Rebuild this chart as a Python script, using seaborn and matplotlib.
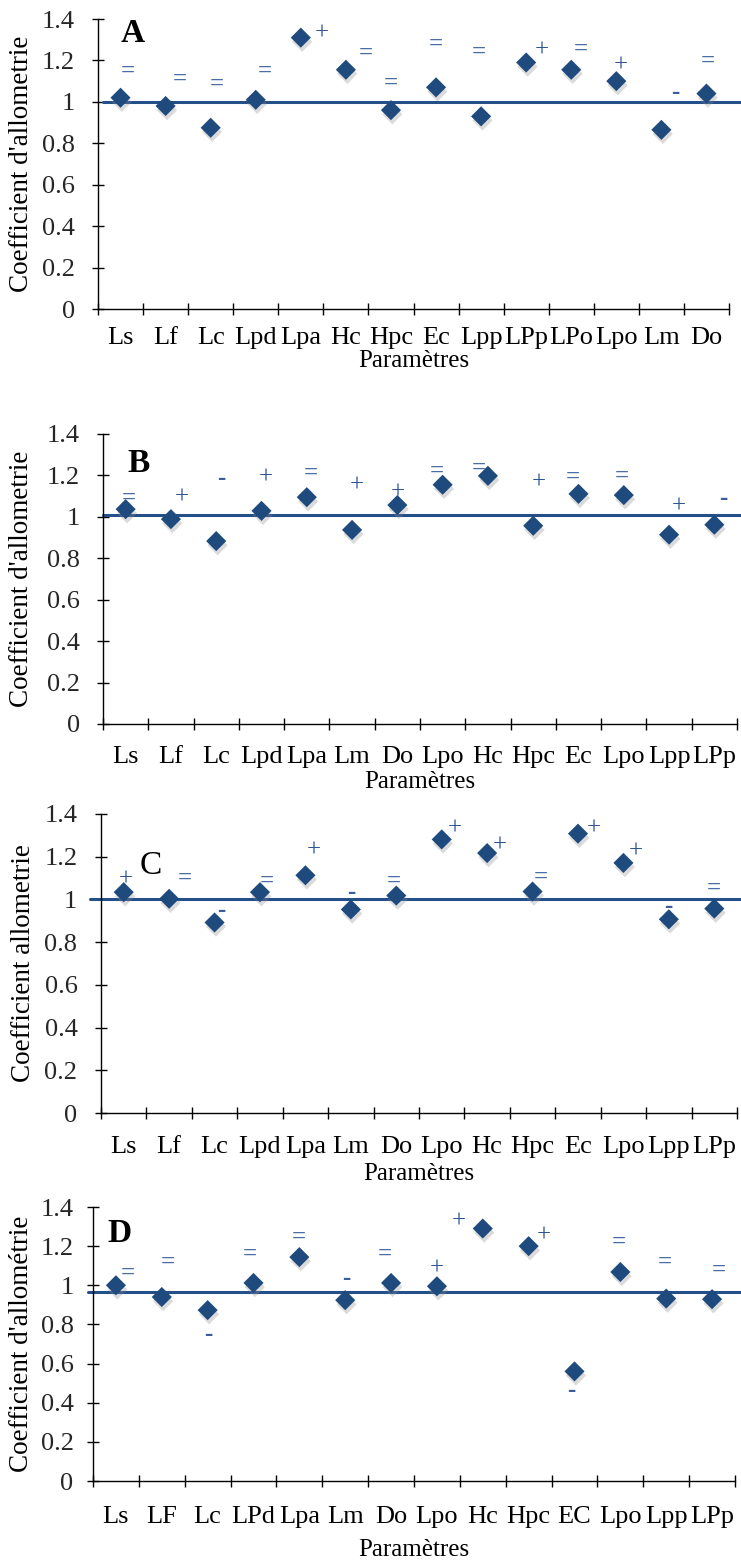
import numpy as np
import pandas as pd
import matplotlib
matplotlib.use("Agg")
import matplotlib.pyplot as plt
import matplotlib.patheffects as pe
import seaborn as sns

sns.set_theme(style="white")
plt.rcParams['font.family'] = ['Liberation Serif', 'DejaVu Serif']

# ------------------------------------------------------------------ data
cats_A = ["Ls", "Lf", "Lc", "Lpd", "Lpa", "Hc", "Hpc", "Ec", "Lpp", "LPp", "LPo", "Lpo", "Lm", "Do"]
vals_A = [1.02, 0.98, 0.875, 1.01, 1.31, 1.155, 0.96, 1.07, 0.93, 1.19, 1.155, 1.10, 0.865, 1.04]
sig_A = ["=", "=", "=", "=", "+", "=", "=", "=", "=", "+", "=", "+", "-", "="]
sigy_A = [1.146, 1.11, 1.083, 1.149, 1.33, 1.233, 1.09, 1.276, 1.237, 1.25, 1.254, 1.175, 1.043, 1.194]
ref_A = 1.0

cats_B = ["Ls", "Lf", "Lc", "Lpd", "Lpa", "Lm", "Do", "Lpo", "Hc", "Hpc", "Ec", "Lpo", "Lpp", "LPp"]
vals_B = [1.037, 0.989, 0.883, 1.029, 1.095, 0.937, 1.057, 1.155, 1.198, 0.957, 1.111, 1.105, 0.914, 0.962]
sig_B = ["=", "+", "-", "+", "=", "+", "+", "=", "=", "+", "=", "=", "+", "-"]
sigy_B = [1.092, 1.092, 1.184, 1.192, 1.211, 1.151, 1.116, 1.219, 1.235, 1.167, 1.19, 1.198, 1.048, 1.089]
ref_B = 1.01

cats_C = ["Ls", "Lf", "Lc", "Lpd", "Lpa", "Lm", "Do", "Lpo", "Hc", "Hpc", "Ec", "Lpo", "Lpp", "LPp"]
vals_C = [1.034, 1.003, 0.892, 1.034, 1.113, 0.953, 1.018, 1.281, 1.217, 1.037, 1.308, 1.171, 0.907, 0.957]
sig_C = ["+", "=", "-", "=", "+", "-", "=", "+", "+", "=", "+", "+", "-", "="]
sigy_C = [1.095, 1.098, 0.95, 1.084, 1.228, 1.031, 1.087, 1.334, 1.252, 1.102, 1.334, 1.224, 0.965, 1.052]
ref_C = 1.0

cats_D = ["Ls", "LF", "Lc", "LPd", "Lpa", "Lm", "Do", "Lpo", "Hc", "Hpc", "EC", "Lpo", "Lpp", "LPp"]
vals_D = [1.0, 0.94, 0.873, 1.012, 1.144, 0.924, 1.012, 0.995, 1.29, 1.2, 0.56, 1.068, 0.932, 0.929]
sig_D = ["=", "=", "-", "=", "=", "-", "=", "+", "+", "+", "-", "=", "=", "="]
sigy_D = [1.06, 1.12, 0.746, 1.158, 1.246, 1.037, 1.158, 1.085, 1.327, 1.254, 0.46, 1.22, 1.119, 1.076]
ref_D = 0.966

letters = ["A", "B", "C", "D"]
ylabels = ["Coefficient d'allometrie", "Coefficient d'allometrie",
           "Coefficient allometrie", "Coefficient d'allométrie"]
xlabel = "Paramètres"
yticks = [0, 0.2, 0.4, 0.6, 0.8, 1.0, 1.2, 1.4]
ytick_labels = ["0", "0.2", "0.4", "0.6", "0.8", "1", "1.2", "1.4"]

# ------------------------------------------------------------------ layout (pixels)
W, H, DPI = 741, 1564, 100
layout = [
    dict(l=98, r=729, t=19, b=309, xpad=13, ypad=12, xl=361, yl=22, ls=103, let=(133, 33), bold=True),
    dict(l=103, r=737, t=434, b=724, xpad=16, ypad=12, xl=782, yl=22, ls=103, let=(139, 464), bold=True),
    dict(l=101, r=737, t=814, b=1113, xpad=16.5, ypad=12.5, xl=1174, yl=24, ls=90, let=(151, 866), bold=False),
    dict(l=93, r=735, t=1207, b=1481, xpad=18, ypad=9.5, xl=1550, yl=22, ls=88, let=(120, 1234), bold=True),
]
# horizontal offsets (px) of the significance symbols relative to each diamond
sym_dx = [
    [7, 14, 6, 9, 21, 20, 0, 0, -2, 16, 10, 4, 14, 1],
    [3, 11, 5, 4, 4, 5, 0, -6, -9, 6, -6, -2, 10, 9],
    [2, 16, 7, 7, 8, 0, -2, 13, 13, 8, 16, 12, -1, 0],
    [12, 6, 1, -4, 0, 1, -6, 0, -24, 15, -3, -1, -1, 7],
]

MARK = "#1F4A7E"
LINE = "#24508A"
SYM_COL = {"=": "#4A6DA6", "+": "#2C5391", "-": "#3A5E9B"}
SYM_W = {"=": "bold", "+": "normal", "-": "bold"}
FS = 19
FS_X = 18
FS_Y = 19.5

panels = [
    (cats_A, vals_A, sig_A, sigy_A, ref_A),
    (cats_B, vals_B, sig_B, sigy_B, ref_B),
    (cats_C, vals_C, sig_C, sigy_C, ref_C),
    (cats_D, vals_D, sig_D, sigy_D, ref_D),
]

fig = plt.figure(figsize=(W / DPI, H / DPI), dpi=DPI)
fig.patch.set_facecolor("white")

for k, (cats, vals, sigs, sigy, ref) in enumerate(panels):
    L = layout[k]
    ax = fig.add_axes([L["l"] / W, 1 - L["b"] / H, (L["r"] - L["l"]) / W, (L["b"] - L["t"]) / H])
    ax.set_facecolor("white")
    n = len(cats)
    df = pd.DataFrame({"pos": np.arange(n), "val": vals, "cat": cats})

    # reference line
    wpx = L["r"] - L["l"]
    ax.plot([(L["ls"] - L["l"]) / wpx, (W + 2 - L["l"]) / wpx], [ref, ref],
            transform=ax.get_yaxis_transform(), color=LINE, lw=2.2, clip_on=False, zorder=2)

    sns.scatterplot(data=df, x="pos", y="val", ax=ax, marker="D", s=105,
                    color=MARK, edgecolor="none", linewidth=0, zorder=4, legend=False)
    for coll in ax.collections:
        coll.set_path_effects([pe.SimplePatchShadow(offset=(1.0, -3.0), shadow_rgbFace="#888888", alpha=0.3),
                               pe.Normal()])

    for i in range(n):
        ax.annotate(sigs[i], xy=(i, sigy[i]), xytext=(sym_dx[k][i], 0), textcoords="offset pixels",
                    ha="center", va="center", fontsize=18, fontweight=SYM_W[sigs[i]],
                    color=SYM_COL[sigs[i]], zorder=5, annotation_clip=False)

    ax.set_xlim(-0.5, n - 0.5)
    ax.set_ylim(0, 1.4)
    ax.set_yticks(yticks)
    ax.set_yticklabels(ytick_labels)
    ax.set_xticks(np.arange(n))
    ax.set_xticklabels(cats)
    ax.set_xticks(np.arange(n + 1) - 0.5, minor=True)
    ax.tick_params(axis="x", which="major", length=0, pad=L["xpad"], labelsize=FS, colors="black")
    ax.tick_params(axis="x", which="minor", length=9, width=1, direction="inout", color="black",
                   bottom=True)
    ax.tick_params(axis="y", which="major", length=9, width=1, direction="inout", color="black",
                   pad=L["ypad"], labelsize=FS, left=True)
    for s in ["top", "right"]:
        ax.spines[s].set_visible(False)
    for s in ["left", "bottom"]:
        ax.spines[s].set_color("black")
        ax.spines[s].set_linewidth(1.0)
    ax.grid(False)

    ax.set_xlabel(xlabel, fontsize=FS_X, color="black")
    ax.xaxis.set_label_coords(0.5, (L["b"] - L["xl"]) / (L["b"] - L["t"]))
    ax.xaxis.label.set_verticalalignment("center")
    ax.set_ylabel(ylabels[k], fontsize=FS_Y, color="black")
    ax.yaxis.set_label_coords((L["yl"] - L["l"]) / wpx, 0.5)
    ax.yaxis.label.set_verticalalignment("center")

    lx, ly = L["let"]
    fig.text(lx / W, 1 - ly / H, letters[k], fontsize=24,
             fontweight="bold" if L["bold"] else "normal", ha="center", va="center", color="black")

fig.savefig("out.png", dpi=DPI, facecolor="white")
